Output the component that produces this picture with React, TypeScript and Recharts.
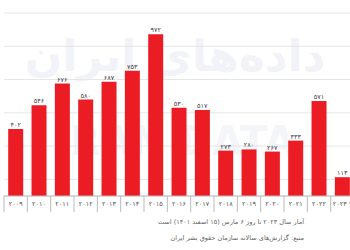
import { BarChart, Bar, XAxis, YAxis, CartesianGrid, LabelList } from 'recharts';

const years = ['2009', '2010', '2011', '2012', '2013', '2014', '2015', '2016', '2017', '2018', '2019', '2020', '2021', '2022', '2023 *'];
const executions = [402, 546, 676, 580, 687, 753, 972, 530, 517, 273, 280, 267, 333, 571, 113];
const gridTicks = [0, 100, 200, 300, 400, 500, 600, 700, 800, 900, 1000, 1100];
const noteLines = [
  'آمار سال ۲۰۲۳ تا روز ۶ مارس (۱۵ اسفند ۱۴۰۱) است',
  'منبع: گزارش‌های سالانه سازمان حقوق بشر ایران',
];

const faDigits = '۰۱۲۳۴۵۶۷۸۹';
const toFa = (s: string | number) => String(s).replace(/[0-9]/g, d => faDigits[Number(d)]);

const data = years.map((y, i) => ({ year: y, value: executions[i] }));

const SLOT = 350 / years.length;

function YearTick({ x, y, payload, index }: any) {
  return (
    <g>
      <line x1={x - SLOT / 2} x2={x - SLOT / 2} y1={y - 8} y2={y + 8} stroke="#bbb" strokeWidth={1} />
      {index === years.length - 1 && (
        <line x1={x + SLOT / 2} x2={x + SLOT / 2} y1={y - 8} y2={y + 8} stroke="#bbb" strokeWidth={1} />
      )}
      <text x={x} y={y + 2} textAnchor="middle" fontSize={6.5} fill="#555" fontFamily="DejaVu Sans">
        {toFa(payload.value)}
      </text>
    </g>
  );
}

export default function App() {
  return (
    <div style={{ position: 'absolute', left: 0, top: 0, width: 350, height: 250, overflow: 'hidden', background: '#fff' }}>
      {/* faint watermark */}
      <div style={{ position: 'absolute', left: 0, top: 30, width: 350, textAlign: 'center', fontSize: 44, color: '#f2f3f8', fontFamily: 'DejaVu Sans', fontWeight: 'bold', direction: 'rtl', whiteSpace: 'nowrap' }}>
        داده‌های ایران
      </div>
      <div style={{ position: 'absolute', left: 0, top: 118, width: 350, textAlign: 'center', fontSize: 40, color: '#f4f5f9', fontFamily: 'DejaVu Sans', fontWeight: 'bold', whiteSpace: 'nowrap' }}>
        IRAN DATA
      </div>
      <div style={{ position: 'absolute', left: 0, top: 0 }}>
        <BarChart width={360} height={250} data={data} margin={{ top: 13, right: 6, left: 4, bottom: 34 }} barCategoryGap="18%">
          <CartesianGrid vertical={false} stroke="#e6e6e6" />
          <YAxis hide domain={[0, 1100]} ticks={gridTicks} />
          <XAxis dataKey="year" interval={0} axisLine={{ stroke: '#bbb' }} tickLine={false} height={20} tick={<YearTick />} />
          <Bar dataKey="value" fill="#ec1c24" isAnimationActive={false}>
            <LabelList dataKey="value" position="top" offset={2} formatter={(v: any) => toFa(v)} style={{ fontSize: 6.5, fill: '#444', fontFamily: 'DejaVu Sans' }} />
          </Bar>
        </BarChart>
      </div>
      {noteLines.map((t, i) => (
        <div key={i} style={{ position: 'absolute', right: 46, top: 218 + i * 16, fontSize: 6.5, color: '#666', fontFamily: 'DejaVu Sans', direction: 'rtl', whiteSpace: 'nowrap' }}>
          {t}
        </div>
      ))}
    </div>
  );
}
